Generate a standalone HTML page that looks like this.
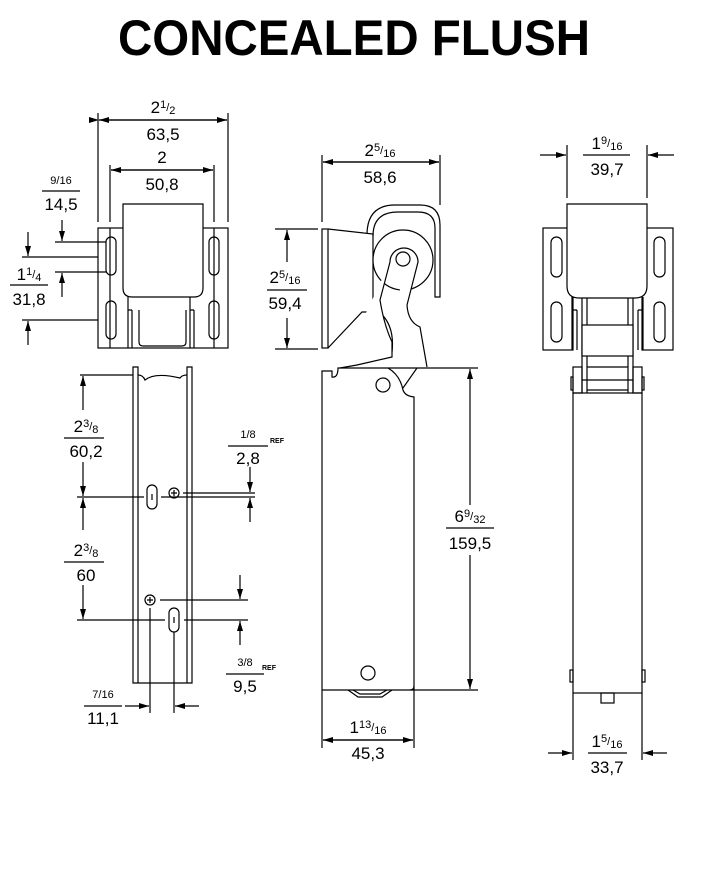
<!DOCTYPE html>
<html><head><meta charset="utf-8"><style>
html,body{margin:0;padding:0;background:#fff;}
svg{display:block}
text{font-family:"Liberation Sans",sans-serif;fill:#000}
.t{font-size:17px}
.s{font-size:11px}
</style></head><body>
<svg width="723" height="888" viewBox="0 0 723 888" xmlns="http://www.w3.org/2000/svg">
<defs>
<marker id="a" viewBox="0 0 10 6" refX="10" refY="3" markerWidth="10" markerHeight="6" markerUnits="userSpaceOnUse" orient="auto"><path d="M0,0 L10,3 L0,6z" fill="#000"/></marker>
</defs>
<text x="354" y="55" text-anchor="middle" font-size="50" font-weight="bold" textLength="472" lengthAdjust="spacingAndGlyphs" style="font-family:'Liberation Sans',sans-serif">CONCEALED FLUSH</text>

<g fill="none" stroke="#000" stroke-width="1.2">
<!-- VIEW A top-left -->
<rect x="98" y="228" width="130" height="120"/>
<line x1="110" y1="228" x2="110" y2="348"/><line x1="214" y1="228" x2="214" y2="348"/>
<path d="M123,228 V204 H203 V288 Q203,297 194,297 H132 Q123,297 123,288 Z" fill="#fff"/>
<path d="M128,297 V348 M132,310 V348 M190,297 V348 M194,310 V348 M128,310 H132 M190,310 H194 M139,310 V342 Q139,346 143,346 H182 Q186,346 186,342 V310"/>
<rect x="106" y="237" width="10" height="38" rx="5"/><rect x="106" y="301" width="10" height="38" rx="5"/>
<rect x="209" y="237" width="10" height="38" rx="5"/><rect x="209" y="301" width="10" height="38" rx="5"/>
<line x1="98" y1="113" x2="98" y2="222"/><line x1="228" y1="113" x2="228" y2="222"/>
<line x1="99" y1="120" x2="227" y2="120" marker-start="url(#a)" marker-end="url(#a)" style="marker-start:url(#a)"/>
<line x1="110" y1="165" x2="110" y2="222"/><line x1="214" y1="165" x2="214" y2="222"/>
<line x1="111" y1="170" x2="213" y2="170" marker-end="url(#a)"/><line x1="213" y1="170" x2="111" y2="170" marker-end="url(#a)"/>
<line x1="227" y1="120" x2="99" y2="120" marker-end="url(#a)"/>
<line x1="55" y1="242" x2="106" y2="242"/><line x1="22" y1="257" x2="98" y2="257"/>
<line x1="55" y1="272" x2="106" y2="272"/><line x1="22" y1="320" x2="98" y2="320"/>
<line x1="62" y1="220" x2="62" y2="241" marker-end="url(#a)"/>
<line x1="28" y1="232" x2="28" y2="256" marker-end="url(#a)"/>
<line x1="62" y1="297" x2="62" y2="273" marker-end="url(#a)"/>
<line x1="28" y1="345" x2="28" y2="321" marker-end="url(#a)"/>
<line x1="42" y1="191" x2="80" y2="191"/><line x1="10" y1="285" x2="48" y2="285"/>

<!-- channel lower-left -->
<path d="M133,683 V367 H138 V683 Z M187,683 V367 H192 V683 Z M133,683 H192"/>
<path d="M138,375 Q143,375 145,380 Q155,372 180,378 Q182,375 187,375"/>
<rect x="147" y="485" width="10" height="24" rx="5"/><rect x="169" y="608" width="10" height="24" rx="5"/>
<circle cx="174" cy="493" r="5"/><circle cx="150" cy="600" r="5"/>
<path d="M174,490 V496 M171,493 H177 M150,597 V603 M147,600 H153 M152,494 V500 M174,617 V623"/>
<line x1="80" y1="375" x2="133" y2="375"/>
<line x1="77" y1="497" x2="144" y2="497"/><line x1="161" y1="497" x2="255" y2="497"/>
<line x1="183" y1="493" x2="255" y2="493"/>
<line x1="77" y1="620" x2="165" y2="620"/>
<line x1="160" y1="600" x2="248" y2="600"/><line x1="184" y1="620" x2="248" y2="620"/>
<line x1="83" y1="410" x2="83" y2="376" marker-end="url(#a)"/><line x1="83" y1="462" x2="83" y2="496" marker-end="url(#a)"/>
<line x1="83" y1="530" x2="83" y2="498" marker-end="url(#a)"/><line x1="83" y1="585" x2="83" y2="619" marker-end="url(#a)"/>
<line x1="64" y1="438" x2="104" y2="438"/><line x1="64" y1="562" x2="104" y2="562"/>
<line x1="250" y1="467" x2="250" y2="492" marker-end="url(#a)"/><line x1="250" y1="522" x2="250" y2="498" marker-end="url(#a)"/>
<line x1="228" y1="446" x2="268" y2="446"/>
<line x1="240" y1="575" x2="240" y2="599" marker-end="url(#a)"/><line x1="240" y1="645" x2="240" y2="621" marker-end="url(#a)"/>
<line x1="226" y1="674" x2="264" y2="674"/>
<line x1="150" y1="608" x2="150" y2="713"/><line x1="174" y1="632" x2="174" y2="713"/>
<line x1="125" y1="706" x2="149" y2="706" marker-end="url(#a)"/><line x1="199" y1="706" x2="175" y2="706" marker-end="url(#a)"/>
<line x1="84" y1="706" x2="122" y2="706"/>

<!-- MIDDLE VIEW -->
<rect x="322" y="229" width="6" height="119"/>
<path d="M328,229 L373,234 V312 L362,312 L328,348"/>
<path d="M373,312 Q390,330 385,358 L392,352 Q395,325 379,312"/>
<path d="M367,233 Q368,205 395,205 H420 Q440,205 440,225 V297 H435 V228 Q435,212 418,212 H398 Q373,212 373,236"/>
<circle cx="403" cy="260" r="30" fill="#fff"/>
<path d="M390,262 A14,14 0 0 1 418,262 L407,305 Q408,322 420,327 L427,367 M390,262 L380,300 Q384,325 392,342 L392,357 L357,365 L340,368" fill="#fff"/>
<circle cx="403" cy="259" r="7"/>
<path d="M322,690 V371 H332 V377 Q338,378 338,368 H425 M388,368 Q400,375 403,390 Q405,396 414,397 V690 H322 M417,368 L403,388"/>
<circle cx="383" cy="385" r="7"/><circle cx="368" cy="673" r="7"/>
<path d="M348,690 L358,697 H382 L392,690 M353,690 L360,694 H380 L387,690"/>
<path d="M410,690 Q414,690 414,686"/>
<line x1="322" y1="155" x2="322" y2="222"/><line x1="440" y1="155" x2="440" y2="205"/>
<line x1="323" y1="162" x2="439" y2="162" marker-end="url(#a)"/><line x1="439" y1="162" x2="323" y2="162" marker-end="url(#a)"/>
<line x1="275" y1="229" x2="318" y2="229"/><line x1="275" y1="349" x2="318" y2="349"/>
<line x1="287" y1="262" x2="287" y2="230" marker-end="url(#a)"/><line x1="287" y1="318" x2="287" y2="348" marker-end="url(#a)"/>
<line x1="267" y1="290" x2="307" y2="290"/>
<line x1="425" y1="368" x2="478" y2="368"/><line x1="414" y1="690" x2="478" y2="690"/>
<line x1="470" y1="505" x2="470" y2="369" marker-end="url(#a)"/><line x1="470" y1="555" x2="470" y2="689" marker-end="url(#a)"/>
<line x1="446" y1="528" x2="494" y2="528"/>
<line x1="322" y1="690" x2="322" y2="748"/><line x1="414" y1="690" x2="414" y2="748"/>
<line x1="323" y1="740" x2="413" y2="740" marker-end="url(#a)"/><line x1="413" y1="740" x2="323" y2="740" marker-end="url(#a)"/>

<!-- RIGHT VIEW -->
<rect x="543" y="228" width="30" height="122"/><rect x="642" y="228" width="31" height="122"/>
<rect x="551" y="237" width="11" height="40" rx="5.5"/><rect x="551" y="302" width="11" height="40" rx="5.5"/>
<rect x="654" y="237" width="11" height="40" rx="5.5"/><rect x="654" y="302" width="11" height="40" rx="5.5"/>
<path d="M572,297 V350 M577,310 V350 M572,310 H577 M643,297 V350 M638,310 V350 M638,310 H643"/>
<path d="M582,297 V393 M587,297 V393 M628,297 V393 M633,297 V393"/>
<rect x="582" y="325" width="51" height="31" fill="#fff"/>
<path d="M567,204 H647 V286 Q647,298 635,298 H579 Q567,298 567,286 Z" fill="#fff"/>
<rect x="573" y="367" width="9" height="26"/><rect x="633" y="367" width="9" height="26"/>
<path d="M587,367 H628 M582,380 H633 M587,390 H628 M571,377 H573 V390 H571 Z M642,377 H644 V390 H642 Z"/>
<rect x="573" y="393" width="69" height="300"/>
<rect x="570" y="670" width="3" height="12"/><rect x="642" y="670" width="3" height="12"/>
<rect x="601" y="693" width="13" height="10"/>
<line x1="567" y1="145" x2="567" y2="198"/><line x1="647" y1="145" x2="647" y2="198"/>
<line x1="540" y1="155" x2="566" y2="155" marker-end="url(#a)"/><line x1="674" y1="155" x2="648" y2="155" marker-end="url(#a)"/>
<line x1="583" y1="155" x2="630" y2="155"/>
<line x1="573" y1="693" x2="573" y2="760"/><line x1="642" y1="693" x2="642" y2="760"/>
<line x1="548" y1="753" x2="572" y2="753" marker-end="url(#a)"/><line x1="667" y1="753" x2="643" y2="753" marker-end="url(#a)"/>
<line x1="588" y1="753" x2="627" y2="753"/>
</g>

<!-- TEXT -->
<g class="t">
<text x="163" y="113" text-anchor="middle">2<tspan class="s" dy="-5">1</tspan><tspan class="s" dy="3">/</tspan><tspan class="s" dy="3">2</tspan></text>
<text x="163" y="140" text-anchor="middle">63,5</text>
<text x="162" y="163" text-anchor="middle">2</text>
<text x="162" y="190" text-anchor="middle">50,8</text>
<text x="61" y="184" text-anchor="middle" class="s">9/16</text>
<text x="61" y="210" text-anchor="middle">14,5</text>
<text x="29" y="280" text-anchor="middle">1<tspan class="s" dy="-5">1</tspan><tspan class="s" dy="3">/</tspan><tspan class="s" dy="3">4</tspan></text>
<text x="29" y="305" text-anchor="middle">31,8</text>

<text x="86" y="432" text-anchor="middle">2<tspan class="s" dy="-5">3</tspan><tspan class="s" dy="3">/</tspan><tspan class="s" dy="3">8</tspan></text>
<text x="86" y="457" text-anchor="middle">60,2</text>
<text x="86" y="556" text-anchor="middle">2<tspan class="s" dy="-5">3</tspan><tspan class="s" dy="3">/</tspan><tspan class="s" dy="3">8</tspan></text>
<text x="86" y="581" text-anchor="middle">60</text>
<text x="248" y="438" text-anchor="middle" class="s">1/8</text>
<text x="248" y="464" text-anchor="middle">2,8</text>
<text x="270" y="443" font-size="7" font-weight="bold">REF</text>
<text x="245" y="666" text-anchor="middle" class="s">3/8</text>
<text x="245" y="692" text-anchor="middle">9,5</text>
<text x="262" y="670" font-size="7" font-weight="bold">REF</text>
<text x="103" y="698" text-anchor="middle" class="s">7/16</text>
<text x="103" y="724" text-anchor="middle">11,1</text>

<text x="380" y="156" text-anchor="middle">2<tspan class="s" dy="-5">5</tspan><tspan class="s" dy="3">/</tspan><tspan class="s" dy="3">16</tspan></text>
<text x="380" y="183" text-anchor="middle">58,6</text>
<text x="285" y="283" text-anchor="middle">2<tspan class="s" dy="-5">5</tspan><tspan class="s" dy="3">/</tspan><tspan class="s" dy="3">16</tspan></text>
<text x="285" y="309" text-anchor="middle">59,4</text>
<text x="470" y="522" text-anchor="middle">6<tspan class="s" dy="-5">9</tspan><tspan class="s" dy="3">/</tspan><tspan class="s" dy="3">32</tspan></text>
<text x="470" y="549" text-anchor="middle">159,5</text>
<text x="368" y="733" text-anchor="middle">1<tspan class="s" dy="-5">13</tspan><tspan class="s" dy="3">/</tspan><tspan class="s" dy="3">16</tspan></text>
<text x="368" y="759" text-anchor="middle">45,3</text>

<text x="607" y="149" text-anchor="middle">1<tspan class="s" dy="-5">9</tspan><tspan class="s" dy="3">/</tspan><tspan class="s" dy="3">16</tspan></text>
<text x="607" y="175" text-anchor="middle">39,7</text>
<text x="607" y="747" text-anchor="middle">1<tspan class="s" dy="-5">5</tspan><tspan class="s" dy="3">/</tspan><tspan class="s" dy="3">16</tspan></text>
<text x="607" y="773" text-anchor="middle">33,7</text>
</g>
</svg>
</body></html>
